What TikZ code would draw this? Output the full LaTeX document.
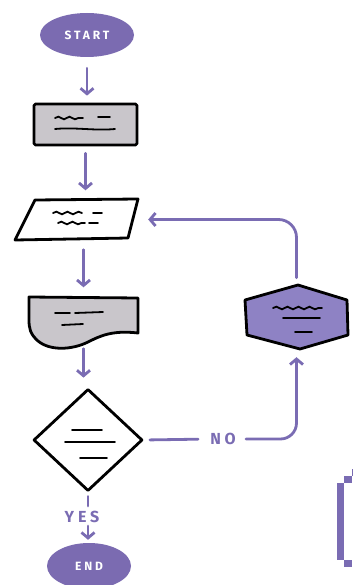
\documentclass[tikz,border=0pt]{standalone}
\usepackage{fontspec}
\setmainfont{Fira Sans}
\newfontfamily\tagfont{Fira Sans}[LetterSpace=24]
\usetikzlibrary{arrows.meta,shapes.geometric,decorations.pathmorphing}

\definecolor{flow}{HTML}{7A6CB3}
\definecolor{termfill}{HTML}{7B6BB1}
\definecolor{hexfill}{HTML}{8E82C4}
\definecolor{procgray}{HTML}{C9C6CB}

\begin{document}
\begin{tikzpicture}[x=1pt,y=-1pt,
  outline/.style={draw=black, line width=2.8pt, line join=round},
  term/.style={ellipse, fill=termfill, inner sep=0pt, text=white,
    font=\tagfont\bfseries\fontsize{12}{12}\selectfont},
  lbl/.style={inner sep=0pt, text=flow,
    font=\tagfont\bfseries\fontsize{16}{16}\selectfont},
  box/.style={inner sep=0pt},
  conn/.style={draw=flow, line width=2.8pt, line cap=round},
  arr/.style={conn, -{Straight Barb[length=5.5pt,width=13pt]}},
  squig/.style={draw=black, line width=1.8pt, line cap=round, decorate,
    decoration={snake, amplitude=1.3pt, segment length=11pt}},
  tline/.style={draw=black, line width=1.8pt, line cap=round}
]
\useasboundingbox (0,0) rectangle (353,585);

% ---- terminals ----
\node[term, minimum width=94pt, minimum height=44pt] (start) at (87,35) {START};
\node[term, minimum width=84pt, minimum height=46pt] (end) at (89,566) {END};

% ---- process box ----
\node[outline, fill=procgray, rounded corners=1.5pt, minimum width=103pt,
  minimum height=41pt, inner sep=0pt] (proc) at (85.5,124.5) {};
\draw[squig] (55,118) -- (83,118);
\draw[tline] (98,117) -- (110,117);
\draw[tline] (55,129) .. controls (75,127) and (95,131) .. (115,129);

% ---- input / output parallelogram ----
\node[box, minimum width=123pt, minimum height=40pt] (io) at (76.5,219.5) {};
\draw[outline, fill=white] (35,200) -- (138,199) -- (128,238) -- (15,240) -- cycle;
\draw[squig] (53,213) -- (82,213);
\draw[tline] (93,213) -- (102,213);
\draw[squig] (58,223) -- (85,223);
\draw[tline] (89,223) -- (98,223);

% ---- document ----
\node[box, minimum width=109pt, minimum height=51pt] (doc) at (83.5,322) {};
\draw[outline, fill=procgray] (29,297) -- (138,298) -- (138,333)
  .. controls (112,330) and (100,336) .. (88,342)
  .. controls (72,350) and (50,351) .. (38,341)
  .. controls (30,334) and (29,328) .. (29,320) -- cycle;
\draw[tline] (55,313) -- (70,313);
\draw[tline] (75,313) -- (103,312);
\draw[tline] (62,325) -- (83,324);

% ---- decision ----
\node[diamond, outline, fill=white, inner sep=0pt, minimum width=109pt,
  minimum height=102pt] (dia) at (88,440) {};
\draw[tline] (72,430) -- (102,430);
\draw[tline] (65,442) -- (115,442);
\draw[tline] (80,458) -- (107,458);

% ---- hexagon ----
\node[box, minimum width=103pt, minimum height=64pt] (hex) at (296.5,317) {};
\draw[outline, fill=hexfill] (298,285) -- (347,300) -- (348,335) -- (300,349)
  -- (247,335) -- (245,300) -- cycle;
\draw[squig] (273,308) -- (322,308);
\draw[tline] (283,318) -- (320,318);
\draw[tline] (295,332) -- (312,332);

% ---- labels ----
\node[lbl] (yes) at (82,517) {YES};
\node[lbl] (no) at (223,439) {NO};

% ---- connectors ----
\draw[arr, shorten <=11pt, shorten >=7pt] (start.south) -- (start.south |- proc.north);
\draw[arr, shorten <=7pt, shorten >=9pt] (proc.south) -- (proc.south |- io.north);
\draw[arr, shorten <=10pt, shorten >=9pt] (io.south -| doc.north) -- (doc.north);
\draw[arr, shorten <=1pt, shorten >=10pt] (doc.south) -- (doc.south |- dia.north);
\draw[conn, shorten <=4pt, shorten >=5pt] (dia.south) -- (dia.south |- yes.north);
\draw[arr, shorten <=3pt, shorten >=3pt] (dia.south |- yes.south) -- (dia.south |- end.north);
\draw[conn, shorten <=6pt, shorten >=12pt] (dia.east) -- (no.west);
\draw[arr, rounded corners=16pt, shorten <=10pt, shorten >=8pt] (no.east) -| (hex.south);
\draw[arr, rounded corners=18pt, shorten <=7pt, shorten >=10pt] (hex.north) |- (io.east);

% ---- bracket mark at the lower right ----
\fill[flow] (336.5,483) rectangle (344,560);
\fill[flow] (344,476) rectangle (352,483);
\fill[flow] (344,560) rectangle (352,567);
\fill[flow] (352,469) rectangle (353,476);
\end{tikzpicture}
\end{document}
